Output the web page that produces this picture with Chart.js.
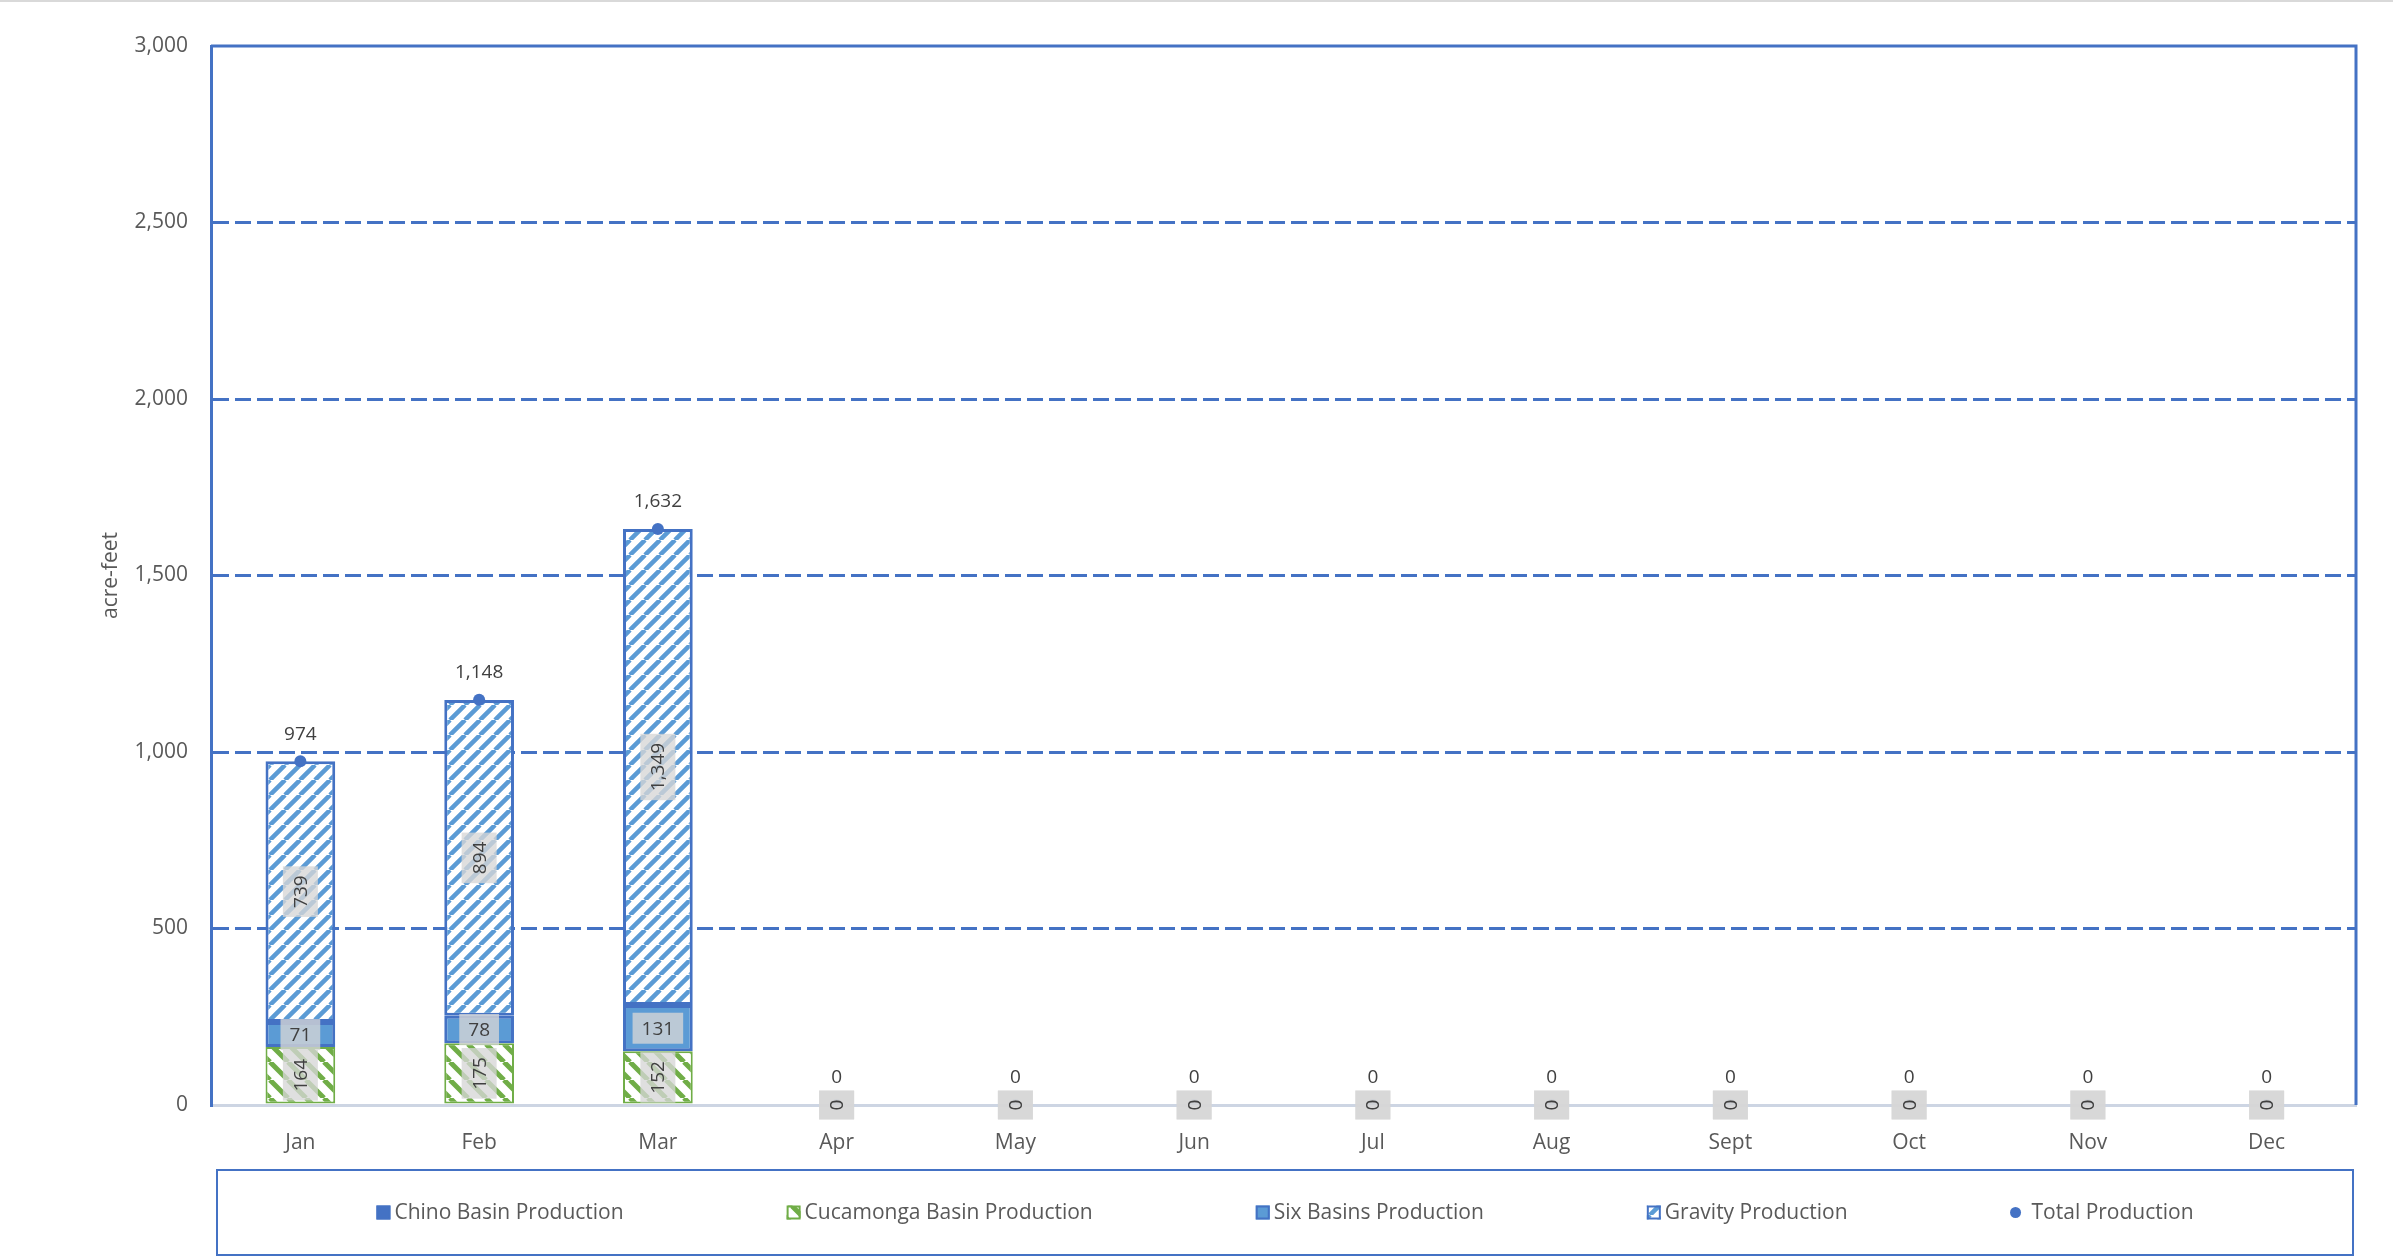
<!DOCTYPE html>
<html>
<head>
<meta charset="utf-8">
<title>Production</title>
<script src="https://cdn.jsdelivr.net/npm/chart.js@4.4.1/dist/chart.umd.min.js"></script>
<style>
  html, body { margin: 0; padding: 0; background: #fff; }
  #wrap { position: relative; width: 2393px; height: 1257px; }
</style>
</head>
<body>
<div id="wrap"><canvas id="production" width="2393" height="1257"></canvas></div>
<script>
// Monthly production, acre-feet
const months = ['Jan', 'Feb', 'Mar', 'Apr', 'May', 'Jun', 'Jul', 'Aug', 'Sept', 'Oct', 'Nov', 'Dec'];
const chinoBasin = [0, 0, 0, 0, 0, 0, 0, 0, 0, 0, 0, 0];
const cucamongaBasin = [164, 175, 152, 0, 0, 0, 0, 0, 0, 0, 0, 0];
const sixBasins = [71, 78, 131, 0, 0, 0, 0, 0, 0, 0, 0, 0];
const gravity = [739, 894, 1349, 0, 0, 0, 0, 0, 0, 0, 0, 0];
const totalProduction = [974, 1148, 1632, 0, 0, 0, 0, 0, 0, 0, 0, 0];

const BLUE = '#4472C4';
const LIGHT_BLUE = '#5B9BD5';
const GREEN = '#70AD47';
const AXIS_TEXT = '#595959';
const LABEL_TEXT = '#404040';
const FONT = '"Open Sans", "DejaVu Sans", sans-serif';

// Diagonal hatch fill: 'up' = /, 'down' = \
function hatch(color, dir, size, lw) {
    const c = document.createElement('canvas');
    c.width = c.height = size;
    const g = c.getContext('2d');
    g.fillStyle = '#fff';
    g.fillRect(0, 0, size, size);
    g.strokeStyle = color;
    g.lineWidth = lw;
    g.beginPath();
    for (let k = -1; k <= 1; k++) {
        if (dir === 'up') {
            g.moveTo(k * size, size);
            g.lineTo(k * size + size, 0);
        } else {
            g.moveTo(k * size, 0);
            g.lineTo(k * size + size, size);
        }
    }
    g.stroke();
    return g.createPattern(c, 'repeat');
}

const gravityFill = hatch(LIGHT_BLUE, 'up', 15, 4.5);
const cucamongaFill = hatch(GREEN, 'down', 18, 5);

const borderIfValue = w => c => (c.raw > 0 ? w : 0);

// ── Plugins ─────────────────────────────────────────────────────────────────

const frame = {
    id: 'frame',
    beforeDraw(chart) {
        const { ctx, width, height } = chart;
        ctx.save();
        ctx.fillStyle = '#fff';
        ctx.fillRect(0, 0, width, height);
        ctx.fillStyle = '#D9D9D9';
        ctx.fillRect(0, 0, width, 2);
        ctx.restore();
    },
    beforeDatasetsDraw(chart) {
        const { ctx, chartArea: a } = chart;
        ctx.save();
        ctx.strokeStyle = BLUE;
        ctx.lineWidth = 3;
        ctx.beginPath();
        ctx.moveTo(a.left, a.top);
        ctx.lineTo(a.right, a.top);
        ctx.lineTo(a.right, a.bottom);
        ctx.stroke();
        ctx.restore();
    }
};

function labelBox(ctx, text, x, y, rotated) {
    ctx.save();
    ctx.translate(x, y);
    if (rotated) ctx.rotate(-Math.PI / 2);
    const w = ctx.measureText(text).width + 18;
    const h = rotated ? 35 : 31;
    ctx.fillStyle = 'rgba(214, 214, 214, 0.78)';
    ctx.fillRect(-w / 2, -h / 2, w, h);
    ctx.fillStyle = LABEL_TEXT;
    ctx.fillText(text, 0, 1);
    ctx.restore();
}

const segmentLabels = {
    id: 'segmentLabels',
    afterDatasetsDraw(chart) {
        const ctx = chart.ctx;
        ctx.save();
        ctx.font = `19px ${FONT}`;
        ctx.textAlign = 'center';
        ctx.textBaseline = 'middle';
        chart.data.datasets.forEach((ds, di) => {
            const mode = ds.labelMode;
            if (!mode) return;
            const meta = chart.getDatasetMeta(di);
            meta.data.forEach((el, i) => {
                const v = ds.data[i];
                if (v === 0 && !ds.labelZero) return;
                const text = v.toLocaleString('en-US');
                if (mode === 'above') {
                    ctx.fillStyle = LABEL_TEXT;
                    ctx.fillText(text, el.x, el.y - 27);
                    return;
                }
                const { x, y, base } = el.getProps(['x', 'y', 'base'], true);
                labelBox(ctx, text, x, (y + base) / 2, mode === 'rotated');
            });
        });
        ctx.restore();
    }
};

// Legend in a framed box under the axis
const boxLegend = {
    id: 'boxLegend',
    afterDraw(chart) {
        const { ctx, chartArea: a, height } = chart;
        const top = a.bottom + 65;
        const bottom = height - 2;
        const left = a.left + 6;
        const right = a.right - 3;
        ctx.save();
        ctx.strokeStyle = BLUE;
        ctx.lineWidth = 2;
        ctx.strokeRect(left, top, right - left, bottom - top);

        ctx.font = `21px ${FONT}`;
        ctx.textBaseline = 'middle';
        ctx.textAlign = 'left';
        const gap = 163;
        const items = chart.data.datasets.map(ds => {
            const dot = ds.type === 'line';
            const markerW = dot ? 21 : 18;
            return { ds, dot, markerW, w: markerW + ctx.measureText(ds.label).width };
        });
        const total = items.reduce((s, it) => s + it.w, 0) + gap * (items.length - 1);
        let x = (left + right) / 2 - total / 2;
        const cy = (top + bottom) / 2;
        items.forEach(it => {
            const ds = it.ds;
            if (it.dot) {
                ctx.fillStyle = ds.pointBackgroundColor;
                ctx.beginPath();
                ctx.arc(x + 5, cy, 5.5, 0, Math.PI * 2);
                ctx.fill();
            } else {
                ctx.fillStyle = ds.backgroundColor;
                ctx.fillRect(x, cy - 7, 14, 14);
                ctx.strokeStyle = ds.borderColor;
                ctx.lineWidth = 2;
                ctx.strokeRect(x + 1, cy - 6, 12, 12);
            }
            ctx.fillStyle = AXIS_TEXT;
            ctx.fillText(ds.label, x + it.markerW, cy + 1);
            x += it.w + gap;
        });
        ctx.restore();
    }
};

// ── Chart ───────────────────────────────────────────────────────────────────

new Chart(document.getElementById('production'), {
    type: 'bar',
    data: {
        labels: months,
        datasets: [
            {
                label: 'Chino Basin Production',
                data: chinoBasin,
                backgroundColor: BLUE,
                borderColor: BLUE,
                borderWidth: borderIfValue(2),
                borderSkipped: false,
                order: 1
            },
            {
                label: 'Cucamonga Basin Production',
                data: cucamongaBasin,
                backgroundColor: cucamongaFill,
                borderColor: GREEN,
                borderWidth: borderIfValue(2),
                borderSkipped: false,
                labelMode: 'rotated',
                labelZero: true,
                order: 1
            },
            {
                label: 'Six Basins Production',
                data: sixBasins,
                backgroundColor: LIGHT_BLUE,
                borderColor: BLUE,
                borderWidth: borderIfValue(3),
                borderSkipped: false,
                labelMode: 'flat',
                order: 1
            },
            {
                label: 'Gravity Production',
                data: gravity,
                backgroundColor: gravityFill,
                borderColor: BLUE,
                borderWidth: borderIfValue(3),
                borderSkipped: false,
                labelMode: 'rotated',
                labelZero: true,
                order: 1
            },
            {
                type: 'line',
                label: 'Total Production',
                data: totalProduction,
                stack: 'total',
                showLine: false,
                pointRadius: 6,
                pointBorderWidth: 0,
                pointBackgroundColor: BLUE,
                borderColor: BLUE,
                labelMode: 'above',
                labelZero: true,
                order: 0
            }
        ]
    },
    options: {
        responsive: false,
        devicePixelRatio: 1,
        animation: false,
        layout: { padding: { left: 98, right: 37, top: 46, bottom: 92 } },
        datasets: { bar: { barPercentage: 0.39, categoryPercentage: 1 } },
        plugins: {
            legend: { display: false },
            tooltip: { enabled: false }
        },
        scales: {
            x: {
                stacked: true,
                grid: { display: false },
                border: { display: true, color: '#CDD5E3', width: 3 },
                ticks: { color: AXIS_TEXT, font: { family: FONT, size: 21 }, padding: 17 },
                afterFit: s => { s.height = 60; }
            },
            y: {
                stacked: true,
                min: 0,
                max: 3000,
                ticks: {
                    stepSize: 500,
                    padding: 23,
                    color: AXIS_TEXT,
                    font: { family: FONT, size: 21 },
                    callback: v => v.toLocaleString('en-US')
                },
                grid: {
                    drawTicks: false,
                    lineWidth: 3,
                    color: c => (c.tick && (c.tick.value === 0 || c.tick.value === 3000) ? 'rgba(0,0,0,0)' : BLUE)
                },
                border: { display: true, color: BLUE, width: 3, dash: [16, 6] },
                title: {
                    display: true,
                    text: 'acre-feet',
                    color: AXIS_TEXT,
                    font: { family: FONT, size: 21 },
                    padding: 0
                },
                afterFit: s => { s.width = 113; }
            }
        }
    },
    plugins: [frame, segmentLabels, boxLegend]
});
</script>
</body>
</html>
